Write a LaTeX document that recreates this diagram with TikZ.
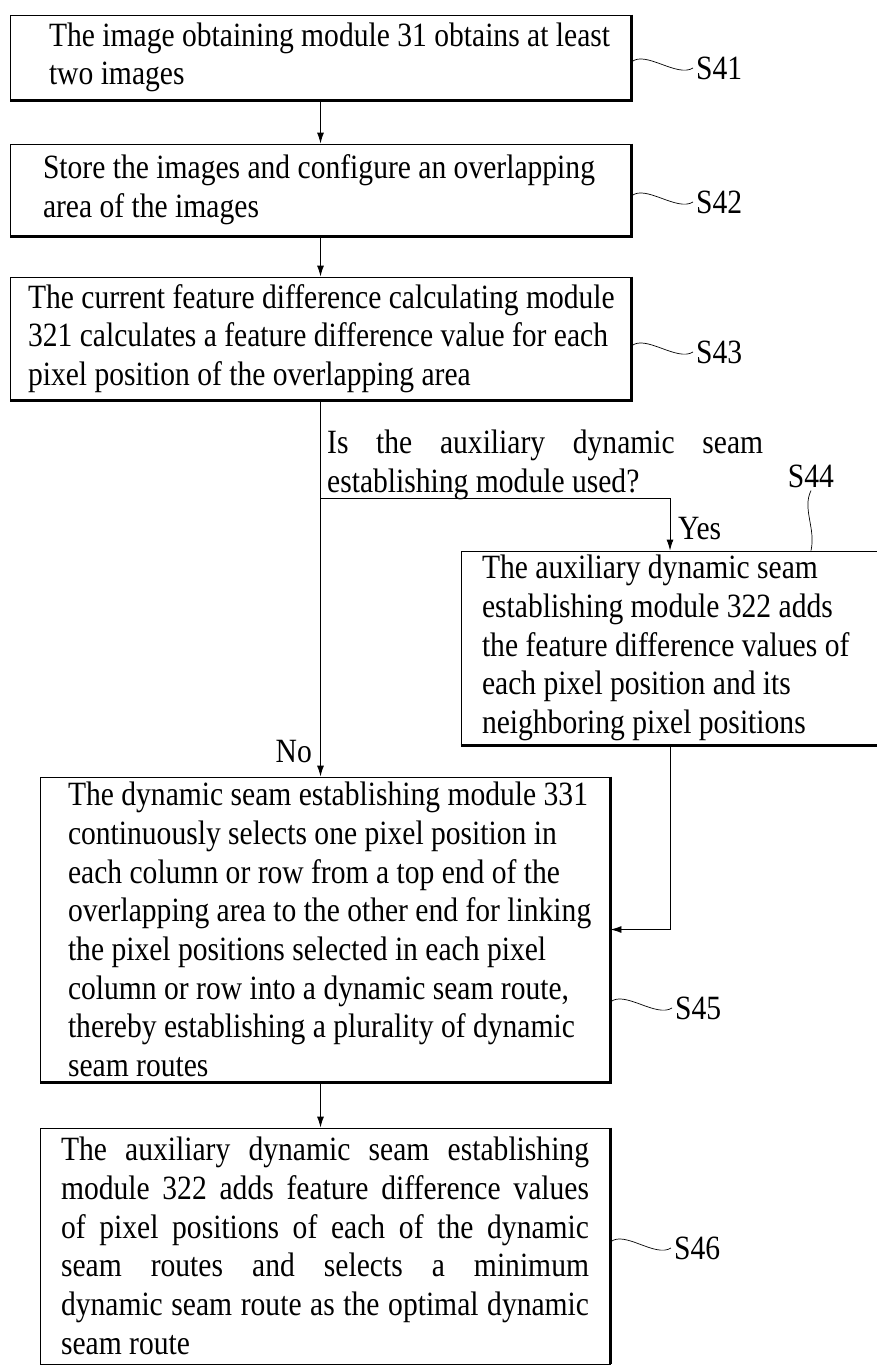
\documentclass[tikz,border=0pt]{standalone}
\usepackage{fontspec}
\setmainfont[FakeStretch=0.87]{Liberation Serif}
\usetikzlibrary{arrows.meta,calc}
\newcommand{\natsp}{\spaceskip=0pt\xspaceskip=0pt\relax}
\begin{document}
\begin{tikzpicture}[x=1pt,y=-1pt,
  every node/.style={font=\fontsize{34}{38.7}\selectfont},
  box/.style={draw, line width=0.9pt, rectangle, align=left, inner ysep=0pt},
  heavy/.style={line width=2.6pt},
  conn/.style={line width=0.9pt},
  arr/.style={conn,-{Latex[length=11pt,width=7pt]}},
  squig/.style={line width=0.7pt},
  tag/.style={inner sep=0pt, anchor=west}]
\useasboundingbox (0,0) rectangle (876,1366);

% boxes
\node[box, minimum width=621pt, minimum height=85pt, text width=543pt, inner xsep=39pt] (s41) at (320.5,57.5)
  {\natsp\mbox{The image obtaining module 31 obtains at least}\\two images};
\node[box, minimum width=621pt, minimum height=92pt, text width=555pt, inner xsep=33pt] (s42) at (320.5,190)
  {\natsp\mbox{Store the images and configure an overlapping}\\area of the images};
\node[box, minimum width=621pt, minimum height=123pt, text width=585pt, inner xsep=18pt] (s43) at (320.5,338.5)
  {\natsp\mbox{The current feature difference calculating module}\\\mbox{321 calculates a feature difference value for each}\\pixel position of the overlapping area};
\node[box, minimum width=418pt, minimum height=194pt, text width=376pt, inner xsep=21pt] (s44) at (670,648)
  {\natsp The auxiliary dynamic seam\\establishing module 322 adds\\\mbox{the feature difference values of}\\each pixel position and its\\neighboring pixel positions};
\node[box, minimum width=570pt, minimum height=305pt, text width=514pt, inner xsep=28pt] (s45) at (325,929.5)
  {\natsp\mbox{The dynamic seam establishing module 331}\\\mbox{continuously selects one pixel position in}\\\mbox{each column or row from a top end of the}\\\mbox{overlapping area to the other end for linking}\\\mbox{the pixel positions selected in each pixel}\\\mbox{column or row into a dynamic seam route,}\\\mbox{thereby establishing a plurality of dynamic}\\seam routes};
\node[box, minimum width=570pt, minimum height=236pt, text width=528pt, inner xsep=21pt] (s46) at (325,1246)
  {\natsp\makebox[528pt][s]{The auxiliary dynamic seam establishing}\\\makebox[528pt][s]{module 322 adds feature difference values}\\\makebox[528pt][s]{of pixel positions of each of the dynamic}\\\makebox[528pt][s]{seam routes and selects a minimum}\\\makebox[528pt][s]{dynamic seam route as the optimal dynamic}\\seam route};

% heavy right/bottom edges
\draw[heavy] (s41.north east) -- (s41.south east) -- (s41.south west);
\draw[heavy] (s42.north east) -- (s42.south east) -- (s42.south west);
\draw[heavy] (s43.north east) -- (s43.south east) -- (s43.south west);
\draw[heavy] (s44.south west) -- (s44.south east);
\draw[heavy] (s45.north east) -- (s45.south east) -- (s45.south west);
\draw[heavy] (s46.north east) -- (s46.south east);

% decision text
\node[inner sep=0pt, anchor=north west, align=left] (dq) at (327,430)
  {\natsp\makebox[436pt][s]{Is the auxiliary dynamic seam}\\establishing module used?};
\coordinate (br) at (320.5,498);

% connectors
\draw[arr] (s41.south) -- (s42.north);
\draw[arr] (s42.south) -- (s43.north);
\draw[arr] (s43.south) -- (s43.south |- s45.north);
\draw[arr] (br) -| (s44.north);
\draw[arr] (s44.south) |- (s45.east);
\draw[arr] (s45.south -| s43.south) -- (s46.north -| s43.south);

\node[tag] (yes) at (678,529) {Yes};
\node[anchor=east, inner sep=0pt] (no) at (312,752) {No};

% step labels
\node[tag] (l41) at (696,68) {S41};
\node[tag] (l42) at (696,202) {S42};
\node[tag] (l43) at (696,352) {S43};
\node[inner sep=0pt] (l44) at (811,476) {S44};
\node[tag] (l45) at (675,1008) {S45};
\node[tag] (l46) at (674,1248) {S46};

\draw[squig] ($(s41.east |- l41.west)+(0,-6)$) .. controls +(14,-12) and +(-16,10) .. ([xshift=-3pt]l41.west);
\draw[squig] ($(s42.east |- l42.west)+(0,-6)$) .. controls +(14,-12) and +(-16,10) .. ([xshift=-3pt]l42.west);
\draw[squig] ($(s43.east |- l43.west)+(0,-6)$) .. controls +(14,-12) and +(-16,10) .. ([xshift=-3pt]l43.west);
\draw[squig] ($(s45.east |- l45.west)+(0,-6)$) .. controls +(14,-12) and +(-16,10) .. ([xshift=-3pt]l45.west);
\draw[squig] ($(s46.east |- l46.west)+(0,-6)$) .. controls +(14,-12) and +(-16,10) .. ([xshift=-3pt]l46.west);
\draw[squig] ([yshift=-3pt]l44.south) .. controls +(-9,18) and +(5,-22) .. (s44.north -| l44.south);
\end{tikzpicture}
\end{document}
